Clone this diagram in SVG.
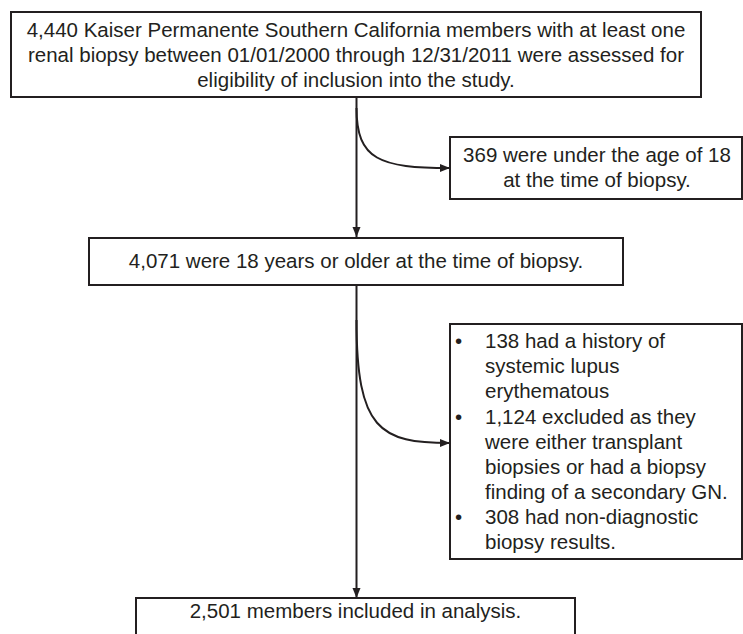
<svg xmlns="http://www.w3.org/2000/svg" width="743" height="634" viewBox="0 0 743 634">
<defs>
<style>
.box{fill:#fff;stroke:#231f20;stroke-width:2}
.t{font-family:"Liberation Sans",Arial,sans-serif;font-size:20.5px;fill:#231f20}
.c{text-anchor:middle}
.ln{fill:none;stroke:#231f20;stroke-width:2}
</style>
<marker id="ah" viewBox="0 0 10 10" refX="10" refY="5" markerWidth="10" markerHeight="10" markerUnits="userSpaceOnUse" orient="auto">
<path d="M0,1 L10,5 L0,9 Z" fill="#231f20"/>
</marker>
</defs>
<rect width="743" height="634" fill="#fff"/>
<g id="connectors">
<path class="ln" d="M356.5,97 L356.5,237" marker-end="url(#ah)"/>
<path class="ln" d="M356.5,108 C356.5,160 380,168 450,168" marker-end="url(#ah)"/>
<path class="ln" d="M356.5,285 L356.5,598" marker-end="url(#ah)"/>
<path class="ln" d="M356.5,320 C356.5,430 380,443 450,443" marker-end="url(#ah)"/>
</g>
<g id="n1">
<rect class="box" x="11" y="12" width="690" height="85"/>
<text class="t c" x="356" y="36.5">4,440 Kaiser Permanente Southern California members with at least one</text>
<text class="t c" x="356" y="62">renal biopsy between 01/01/2000 through 12/31/2011 were assessed for</text>
<text class="t c" x="356" y="87">eligibility of inclusion into the study.</text>
</g>
<g id="n2">
<rect class="box" x="450" y="137" width="292" height="62"/>
<text class="t c" x="597" y="162">369 were under the age of 18</text>
<text class="t c" x="597" y="187">at the time of biopsy.</text>
</g>
<g id="n3">
<rect class="box" x="89" y="238" width="534" height="47"/>
<text class="t c" x="356" y="267.5">4,071 were 18 years or older at the time of biopsy.</text>
</g>
<g id="n4">
<rect class="box" x="450" y="324" width="292" height="235"/>
<text class="t" x="455" y="348">•</text>
<text class="t" x="485" y="348">138 had a history of</text>
<text class="t" x="485" y="373">systemic lupus</text>
<text class="t" x="485" y="398">erythematous</text>
<text class="t" x="455" y="423.5">•</text>
<text class="t" x="485" y="423.5">1,124 excluded as they</text>
<text class="t" x="485" y="448.5">were either transplant</text>
<text class="t" x="485" y="473.5">biopsies or had a biopsy</text>
<text class="t" x="485" y="498.5">finding of a secondary GN.</text>
<text class="t" x="455" y="524">•</text>
<text class="t" x="485" y="524">308 had non-diagnostic</text>
<text class="t" x="485" y="549">biopsy results.</text>
</g>
<g id="n5">
<rect class="box" x="136" y="598" width="439" height="45"/>
<text class="t c" x="355.5" y="618">2,501 members included in analysis.</text>
</g>
</svg>
